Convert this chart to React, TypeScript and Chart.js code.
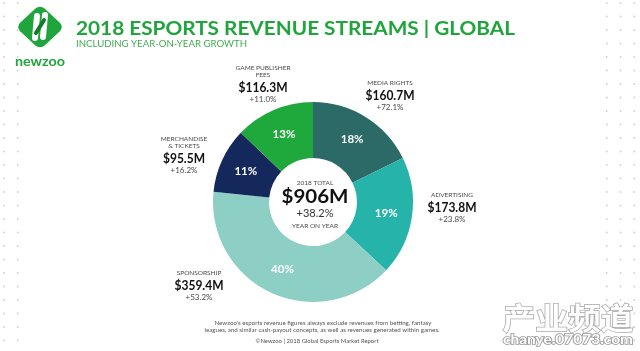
import React, { useEffect, useRef } from "react";
import { Chart, registerables } from "chart.js";

Chart.register(...registerables);

// ---- data ----
const categories = ["MEDIA RIGHTS", "ADVERTISING", "SPONSORSHIP", "MERCHANDISE\n& TICKETS", "GAME PUBLISHER\nFEES"];
const revenues = [160.7, 173.8, 359.4, 95.5, 116.3]; // $M
const growth = ["+72.1%", "+23.8%", "+53.2%", "+16.2%", "+11.0%"];
const totalGrowth = "+38.2%";
const sliceColors = ["#2c6a67", "#25b3aa", "#8dcfc5", "#15285c", "#1fa83b"];

const titleText = "2018 ESPORTS REVENUE STREAMS | GLOBAL";
const subtitleText = "INCLUDING YEAR-ON-YEAR GROWTH";
const footLines = [
  "Newzoo's esports revenue figures always exclude revenues from betting, fantasy",
  "leagues, and similar cash-payout concepts, as well as revenues generated within games.",
  "©Newzoo | 2018 Global Esports Market Report",
];

// ---- layout (positions of outside labels: centre x, top line y) ----
const labelAnchors: [number, number][] = [
  [390, 83],
  [452, 195],
  [199, 273],
  [184, 139],
  [263, 68],
];

const SANS = "Lato, 'Liberation Sans', sans-serif";

function drawText(
  ctx: CanvasRenderingContext2D,
  text: string,
  x: number,
  y: number,
  font: string,
  color: string,
  align: CanvasTextAlign = "center",
  targetW?: number,
  baseline: CanvasTextBaseline = "middle"
) {
  ctx.save();
  ctx.font = font;
  ctx.fillStyle = color;
  ctx.textBaseline = baseline;
  ctx.textAlign = align;
  if (targetW) {
    const w = ctx.measureText(text).width;
    const s = targetW / w;
    ctx.translate(x, y);
    ctx.scale(s, 1);
    ctx.fillText(text, 0, 0);
  } else {
    ctx.fillText(text, x, y);
  }
  ctx.restore();
}

const decorPlugin = {
  id: "decor",
  beforeDraw(chart: any) {
    const ctx: CanvasRenderingContext2D = chart.ctx;
    const W = chart.width;
    const H = chart.height;
    ctx.save();
    ctx.fillStyle = "#ffffff";
    ctx.fillRect(0, 0, W, H);
    // dotted background strips
    ctx.fillStyle = "#cfcfcf";
    for (let x = 4; x < W; x += 13.7) {
      for (let y = 3; y < H; y += 13.5) {
        if (x < 25 || x > 598) {
          ctx.beginPath();
          ctx.arc(x, y, 0.9, 0, Math.PI * 2);
          ctx.fill();
        }
      }
    }
    // logo diamond
    ctx.save();
    ctx.translate(40, 27);
    ctx.scale(1.08, 1);
    ctx.rotate(Math.PI / 4);
    ctx.fillStyle = "#1fa53b";
    ctx.beginPath();
    (ctx as any).roundRect(-16, -16, 32, 32, 6);
    ctx.fill();
    ctx.restore();
    ctx.lineCap = "round";
    ctx.strokeStyle = "#ffffff";
    ctx.lineWidth = 6;
    ctx.beginPath();
    ctx.moveTo(37, 16);
    ctx.lineTo(35, 38);
    ctx.moveTo(45, 15);
    ctx.lineTo(43, 37);
    ctx.stroke();
    ctx.strokeStyle = "#137a2c";
    ctx.lineWidth = 4;
    ctx.beginPath();
    ctx.moveTo(36, 33);
    ctx.lineTo(44, 20);
    ctx.stroke();
    ctx.restore();

    drawText(ctx, "newzoo", 40, 61, `bold 14px ${SANS}`, "#1fa53b", "center", 50);
    drawText(ctx, titleText, 76, 35, `bold 18px ${SANS}`, "#1fa53b", "left", 439, "alphabetic");
    drawText(ctx, subtitleText, 76, 47, `9px ${SANS}`, "#3fae52", "left", 171, "alphabetic");
  },
  afterDraw(chart: any) {
    const ctx: CanvasRenderingContext2D = chart.ctx;
    const meta = chart.getDatasetMeta(0);
    const total = revenues.reduce((a, b) => a + b, 0);

    // percentages in slices
    meta.data.forEach((arc: any, i: number) => {
      const p = arc.getProps(["x", "y", "startAngle", "endAngle", "innerRadius", "outerRadius"], true);
      const mid = (p.startAngle + p.endAngle) / 2;
      const r = (p.innerRadius + p.outerRadius) / 2 + 2;
      const px = p.x + Math.cos(mid) * r;
      const py = p.y + Math.sin(mid) * r;
      const pct = Math.round((revenues[i] / total) * 100) + "%";
      drawText(ctx, pct, px, py, `bold 12px ${SANS}`, "#ffffff", "center", pct.length * 7.6);
    });

    // outside labels
    categories.forEach((cat, i) => {
      const [ax, ay] = labelAnchors[i];
      const lines = cat.split("\n");
      let y = ay;
      lines.forEach((ln, k) => {
        if (k > 0) y += 7;
        drawText(ctx, ln, ax, y, `6.5px ${SANS}`, "#4a4a4a", "center");
      });
      y += 12.5;
      const val = "$" + revenues[i].toFixed(1) + "M";
      drawText(ctx, val, ax, y, `bold 13px ${SANS}`, "#111111", "center", val.length * 7);
      y += 11.5;
      drawText(ctx, growth[i], ax, y, `8px ${SANS}`, "#4a4a4a", "center");
    });

    // centre text
    const cx = meta.data[0].x;
    const cy = meta.data[0].y;
    drawText(ctx, "2018 TOTAL", cx + 2, cy - 19, `6.5px ${SANS}`, "#4a4a4a", "center");
    drawText(ctx, "$" + Math.round(total) + "M", cx + 2, cy - 5, `bold 18px ${SANS}`, "#111111", "center", 67);
    drawText(ctx, totalGrowth, cx + 2, cy + 11, `11px ${SANS}`, "#333333", "center");
    drawText(ctx, "YEAR ON YEAR", cx + 2, cy + 24, `6.5px ${SANS}`, "#4a4a4a", "center");

    // footnote
    drawText(ctx, footLines[0], 323, 323, `6px ${SANS}`, "#555555", "center", 217);
    drawText(ctx, footLines[1], 322, 330, `6px ${SANS}`, "#555555", "center", 235);
    drawText(ctx, footLines[2], 317, 341.5, `6px ${SANS}`, "#555555", "center", 123);

    // watermark
    ctx.save();
    ctx.font = "bold 33px 'Noto Sans CJK SC', sans-serif";
    ctx.textAlign = "center";
    ctx.textBaseline = "middle";
    ctx.lineWidth = 1.6;
    ctx.strokeStyle = "#a8a8a8";
    ctx.fillStyle = "#ffffff";
    const wm = "产业频道";
    const ww = ctx.measureText(wm).width;
    ctx.translate(568, 318);
    ctx.scale(131 / ww, 0.9);
    ctx.strokeText(wm, 0, 0);
    ctx.fillText(wm, 0, 0);
    ctx.restore();
    ctx.save();
    ctx.font = `bold 13px ${SANS}`;
    ctx.textAlign = "center";
    ctx.textBaseline = "middle";
    ctx.lineWidth = 1.6;
    ctx.strokeStyle = "#999999";
    ctx.fillStyle = "#ffffff";
    const url = "chanye.07073.com";
    const uw = ctx.measureText(url).width;
    ctx.translate(568, 340);
    ctx.scale(130 / uw, 1);
    ctx.strokeText(url, 0, 0);
    ctx.fillText(url, 0, 0);
    ctx.restore();
  },
};

export default function App() {
  const ref = useRef<HTMLCanvasElement | null>(null);
  useEffect(() => {
    if (!ref.current) return;
    const chart = new Chart(ref.current, {
      type: "doughnut",
      data: {
        labels: categories,
        datasets: [
          {
            data: revenues,
            backgroundColor: sliceColors,
            borderWidth: 0,
          },
        ],
      },
      options: {
        responsive: false,
        animation: false,
        cutout: "44%",
        rotation: 0,
        layout: { padding: { left: 213, right: 227, top: 102, bottom: 49 } },
        plugins: {
          legend: { display: false },
          tooltip: { enabled: false },
        },
      },
      plugins: [decorPlugin],
    });
    return () => chart.destroy();
  }, []);
  return (
    <div style={{ position: "fixed", left: 0, top: 0, width: 640, height: 351, background: "#fff" }}>
      <canvas ref={ref} width={640} height={351} style={{ display: "block" }} />
    </div>
  );
}
